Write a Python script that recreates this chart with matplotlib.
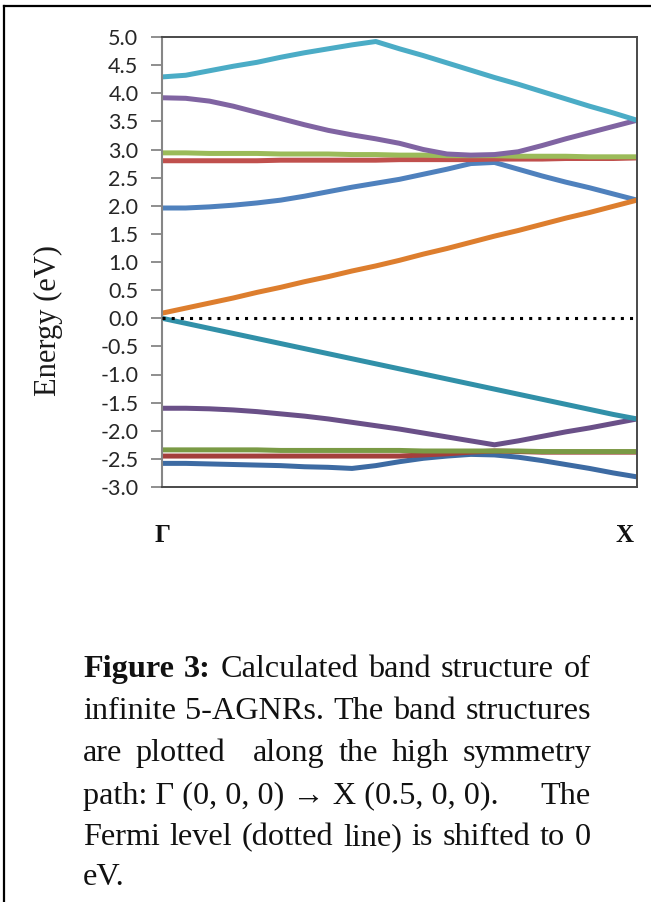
import matplotlib
matplotlib.use("Agg")
import matplotlib.pyplot as plt
from matplotlib.lines import Line2D

# ---- band data: k along Γ -> X (0 = Γ, 1 = X), energies in eV ----
k = [0.00, 0.05, 0.10, 0.15, 0.20, 0.25, 0.30, 0.35, 0.40, 0.45, 0.50,
     0.55, 0.60, 0.65, 0.70, 0.75, 0.80, 0.85, 0.90, 0.95, 1.00]

# conduction bands
cb_red = [2.80, 2.80, 2.80, 2.80, 2.80, 2.81, 2.81, 2.81, 2.81, 2.81, 2.82,
          2.82, 2.82, 2.82, 2.83, 2.83, 2.83, 2.84, 2.84, 2.84, 2.85]
cb_blue = [1.96, 1.96, 1.98, 2.01, 2.05, 2.10, 2.17, 2.25, 2.33, 2.40, 2.47,
           2.56, 2.65, 2.75, 2.77, 2.65, 2.53, 2.42, 2.32, 2.21, 2.10]
cb_green = [2.94, 2.94, 2.93, 2.93, 2.93, 2.92, 2.92, 2.92, 2.91, 2.91, 2.90,
            2.90, 2.89, 2.89, 2.89, 2.88, 2.88, 2.88, 2.87, 2.87, 2.87]
cb_purple = [3.92, 3.91, 3.86, 3.77, 3.66, 3.55, 3.44, 3.34, 3.26, 3.19, 3.11,
             3.00, 2.92, 2.90, 2.91, 2.96, 3.07, 3.19, 3.30, 3.41, 3.52]
cb_cyan = [4.29, 4.32, 4.40, 4.48, 4.55, 4.64, 4.72, 4.79, 4.86, 4.92, 4.79,
           4.67, 4.54, 4.41, 4.28, 4.16, 4.03, 3.90, 3.77, 3.65, 3.52]
cb_orange = [0.09, 0.18, 0.27, 0.36, 0.46, 0.55, 0.65, 0.74, 0.84, 0.93, 1.03,
             1.14, 1.24, 1.35, 1.46, 1.56, 1.67, 1.78, 1.88, 1.99, 2.10]

# valence bands
vb_teal = [0.00, -0.09, -0.18, -0.27, -0.36, -0.45, -0.54, -0.63, -0.72, -0.81, -0.90,
           -0.99, -1.08, -1.17, -1.26, -1.35, -1.44, -1.53, -1.62, -1.71, -1.79]
vb_purple = [-1.60, -1.60, -1.61, -1.63, -1.66, -1.70, -1.74, -1.79, -1.85, -1.91, -1.97,
             -2.04, -2.11, -2.18, -2.25, -2.18, -2.10, -2.02, -1.95, -1.87, -1.79]
vb_red = [-2.45, -2.45, -2.45, -2.45, -2.45, -2.45, -2.45, -2.45, -2.45, -2.45, -2.45,
          -2.43, -2.41, -2.38, -2.36, -2.37, -2.38, -2.38, -2.38, -2.38, -2.38]
vb_green = [-2.34, -2.34, -2.34, -2.34, -2.34, -2.35, -2.35, -2.35, -2.35, -2.35, -2.35,
            -2.36, -2.36, -2.36, -2.36, -2.36, -2.37, -2.37, -2.37, -2.37, -2.37]
vb_blue = [-2.58, -2.58, -2.59, -2.60, -2.61, -2.62, -2.64, -2.65, -2.67, -2.62, -2.55,
           -2.49, -2.45, -2.42, -2.43, -2.47, -2.53, -2.60, -2.67, -2.75, -2.82]

fermi_level = 0.0
y_ticks = [-3.0, -2.5, -2.0, -1.5, -1.0, -0.5, 0.0, 0.5, 1.0, 1.5, 2.0, 2.5,
           3.0, 3.5, 4.0, 4.5, 5.0]
k_labels = ["Γ", "X"]

bands = [
    (vb_blue, "#3d6ba3"), (vb_red, "#a43f3c"), (vb_green, "#7a9a45"),
    (vb_purple, "#6a5088"), (vb_teal, "#3190a8"),
    (cb_blue, "#4f81bd"), (cb_red, "#c0504d"), (cb_green, "#9bbb59"),
    (cb_purple, "#8064a2"), (cb_cyan, "#4bacc6"), (cb_orange, "#dd7e2e"),
]

W, H = 651, 902
fig = plt.figure(figsize=(W / 100, H / 100), dpi=100)
fig.patch.set_facecolor("white")

SERIF = ["Liberation Serif", "DejaVu Serif"]

# plot box in pixel coordinates
x0, x1, y_top, y_bot = 162, 637, 37, 487
ax = fig.add_axes([x0 / W, 1 - y_bot / H, (x1 - x0) / W, (y_bot - y_top) / H])

for vals, col in bands:
    ax.plot(k, vals, color=col, lw=3.6, solid_capstyle="butt",
            solid_joinstyle="round")

ax.axhline(fermi_level, color="black", lw=2.2, linestyle=(0, (1, 2)),
           dash_capstyle="butt", zorder=5)

ax.set_xlim(0, 1)
ax.set_ylim(-3, 5)
ax.set_xticks([])
ax.set_yticks(y_ticks)
ax.set_yticklabels([f"{v:.1f}" for v in y_ticks])
ax.tick_params(axis="y", direction="out", length=8, width=1.3, color="#868686",
               pad=9, labelsize=15.5, labelcolor="#262626")
for lab in ax.get_yticklabels():
    lab.set_fontfamily(["Lato", "DejaVu Sans"])

for side in ("top", "right", "bottom"):
    ax.spines[side].set_color("#4a4a4a")
    ax.spines[side].set_linewidth(1.4)
ax.spines["left"].set_color("#868686")
ax.spines["left"].set_linewidth(1.5)

# y-axis title
fig.text(48 / W, 1 - 320 / H, "Energy (eV)", rotation=90, ha="center",
         va="center", fontsize=22, family=SERIF, color="#1a1a1a")

# high-symmetry point labels below the plot
label_px = [163, 624]
for lab, px in zip(k_labels, label_px):
    fig.text(px / W, 1 - 536 / H, lab, ha="center", va="center",
             fontsize=18, fontweight="bold", family=SERIF, color="#111111")

# page frame lines
fig.add_artist(Line2D([3.5 / W, 1.0], [1 - 6 / H, 1 - 6 / H], color="black",
                      lw=1.6, transform=fig.transFigure))
fig.add_artist(Line2D([3.5 / W, 3.5 / W], [0, 1 - 6 / H], color="black",
                      lw=1.6, transform=fig.transFigure))

# justified caption
cap_left, cap_right = 83, 591
cap_size = 23.2
caption = [
    ([("Figure", "bold"), ("3:", "bold"), ("Calculated", "normal"), ("band", "normal"),
      ("structure", "normal"), ("of", "normal")], [1, 1, 1, 1, 1], True),
    ([("infinite", "normal"), ("5-AGNRs.", "normal"), ("The", "normal"),
      ("band", "normal"), ("structures", "normal")], [1, 1, 1, 1], True),
    ([("are", "normal"), ("plotted", "normal"), ("along", "normal"), ("the", "normal"),
      ("high", "normal"), ("symmetry", "normal")], [1, 2, 1, 1, 1], True),
    ([("path: Γ (0, 0, 0) → X (0.5, 0, 0).", "normal"), ("The", "normal")], [1], True),
    ([("Fermi", "normal"), ("level", "normal"), ("(dotted", "normal"), ("line)", "normal"),
      ("is", "normal"), ("shifted", "normal"), ("to", "normal"), ("0", "normal")],
     [1, 1, 1, 1, 1, 1, 1], True),
    ([("eV.", "normal")], [], False),
]
baseline_y = [677, 719, 761, 804, 845, 885]

renderer = fig.canvas.get_renderer()


def text_width(s, weight):
    t = fig.text(0, 0, s, fontsize=cap_size, family=SERIF, fontweight=weight)
    w = t.get_window_extent(renderer).width
    t.remove()
    return w


space_w = text_width("a b", "normal") - text_width("ab", "normal")

for (words, gaps, justify), yy in zip(caption, baseline_y):
    widths = [text_width(w, wt) for w, wt in words]
    if justify and gaps:
        extra = (cap_right - cap_left) - sum(widths)
        unit = extra / sum(gaps)
    else:
        unit = space_w
    x = cap_left
    for i, ((w, wt), wd) in enumerate(zip(words, widths)):
        fig.text(x / W, 1 - yy / H, w, ha="left", va="baseline",
                 fontsize=cap_size, family=SERIF, fontweight=wt, color="#111111")
        x += wd
        if i < len(gaps):
            x += unit * gaps[i]

fig.savefig("out.png", dpi=100, facecolor="white")
